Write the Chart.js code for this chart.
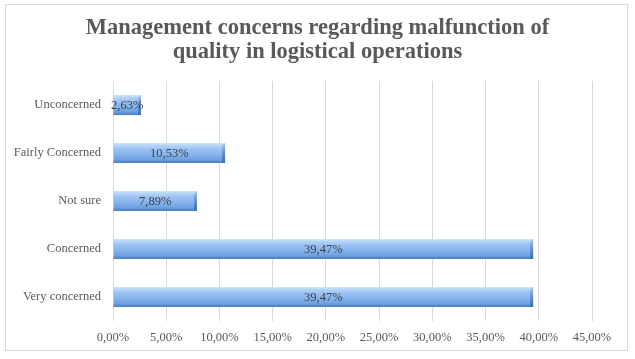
<!DOCTYPE html>
<html>
<head>
<meta charset="utf-8">
<script src="https://cdn.jsdelivr.net/npm/chart.js@4/dist/chart.umd.min.js"></script>
<style>
html,body{margin:0;padding:0;background:#fff;}
#wrap{width:635px;height:359px;position:relative;}
</style>
</head>
<body>
<div id="wrap"><canvas id="c" width="635" height="359"></canvas></div>
<script>
const titleLines = ["Management concerns regarding malfunction of", "quality in logistical operations"];
const categories = ["Unconcerned", "Fairly Concerned", "Not sure", "Concerned", "Very concerned"];
const values = [2.63, 10.53, 7.89, 39.47, 39.47];
const valueLabels = ["2,63%", "10,53%", "7,89%", "39,47%", "39,47%"];
const xTicks = [0, 5, 10, 15, 20, 25, 30, 35, 40, 45];

const SERIF = "'Liberation Serif', 'Times New Roman', serif";
const BAR_PCT = 0.42;

const frame = {
  id: 'frame',
  beforeDraw(chart) {
    const ctx = chart.ctx;
    ctx.save();
    ctx.fillStyle = '#ffffff';
    ctx.fillRect(0, 0, chart.width, chart.height);
    ctx.strokeStyle = '#d9d9d9';
    ctx.lineWidth = 1;
    ctx.strokeRect(5.5, 4.5, 622, 346);
    ctx.restore();
  },
  afterDraw(chart) {
    const ctx = chart.ctx;
    ctx.save();
    ctx.font = "bold 22.5px " + SERIF;
    ctx.fillStyle = '#595959';
    ctx.textAlign = 'center';
    ctx.textBaseline = 'middle';
    ctx.fillText(titleLines[0], chart.width / 2, 28);
    ctx.fillText(titleLines[1], chart.width / 2, 52);
    ctx.restore();
  }
};

function barGradient(c) {
  const chart = c.chart;
  const ys = chart.scales && chart.scales.y;
  if (!ys || c.dataIndex === undefined || !chart.chartArea) return '#8db4e2';
  const y = ys.getPixelForValue(c.dataIndex);
  const h = (ys.height / categories.length) * BAR_PCT;
  const g = chart.ctx.createLinearGradient(0, y - h / 2, 0, y + h / 2);
  g.addColorStop(0, '#d0e5fc');
  g.addColorStop(0.12, '#b6d5f8');
  g.addColorStop(0.3, '#9bc2f2');
  g.addColorStop(0.65, '#7fb0ec');
  g.addColorStop(0.85, '#6b9dde');
  g.addColorStop(1, '#4a7aba');
  return g;
}

const capPlugin = {
  id: 'capPlugin',
  afterDatasetsDraw(chart) {
    const ctx = chart.ctx;
    const meta = chart.getDatasetMeta(0);
    ctx.save();
    meta.data.forEach(el => {
      const p = el.getProps(['x', 'y', 'height'], true);
      const top = p.y - p.height / 2, h = p.height;
      const g = ctx.createLinearGradient(0, top, 0, top + h);
      g.addColorStop(0, '#a9c9ef');
      g.addColorStop(0.5, '#5f8fcf');
      g.addColorStop(1, '#3f6eab');
      ctx.fillStyle = g;
      ctx.beginPath();
      ctx.moveTo(p.x - 3, top + 3);
      ctx.lineTo(p.x, top);
      ctx.lineTo(p.x, top + h);
      ctx.lineTo(p.x - 3, top + h);
      ctx.closePath();
      ctx.fill();
    });
    ctx.restore();
  }
};

const valueLabelPlugin = {
  id: 'valueLabelPlugin',
  afterDatasetsDraw(chart) {
    const ctx = chart.ctx;
    const meta = chart.getDatasetMeta(0);
    ctx.save();
    ctx.font = "12.5px " + SERIF;
    ctx.fillStyle = '#404040';
    ctx.textAlign = 'center';
    ctx.textBaseline = 'middle';
    meta.data.forEach((el, i) => {
      const p = el.getProps(['x', 'y', 'base'], true);
      ctx.fillText(valueLabels[i], (p.x + p.base) / 2, p.y + 1);
    });
    ctx.restore();
  }
};

new Chart(document.getElementById('c'), {
  type: 'bar',
  data: {
    labels: categories,
    datasets: [{
      data: values,
      backgroundColor: barGradient,
      borderWidth: 0,
      barPercentage: BAR_PCT,
      categoryPercentage: 1.0
    }]
  },
  options: {
    indexAxis: 'y',
    responsive: false,
    animation: false,
    devicePixelRatio: 1,
    layout: { padding: { left: 0, right: 43, top: 81, bottom: 0 } },
    plugins: {
      legend: { display: false },
      tooltip: { enabled: false },
      title: { display: false }
    },
    scales: {
      x: {
        min: 0, max: 45,
        afterBuildTicks(scale) { scale.ticks = xTicks.map(v => ({ value: v })); },
        grid: { color: '#d9d9d9', drawTicks: false },
        border: { display: false },
        ticks: {
          color: '#595959',
          padding: 9,
          font: { family: SERIF, size: 12.5 },
          maxRotation: 0,
          callback: v => v.toFixed(2).replace('.', ',') + '%'
        },
        afterFit(scale) { scale.height = 38; }
      },
      y: {
        grid: { display: false, drawTicks: false },
        border: { display: false },
        ticks: {
          color: '#595959',
          padding: 12,
          font: { family: SERIF, size: 12.5 }
        },
        afterFit(scale) { scale.width = 113; }
      }
    }
  },
  plugins: [frame, capPlugin, valueLabelPlugin]
});
</script>
</body>
</html>
